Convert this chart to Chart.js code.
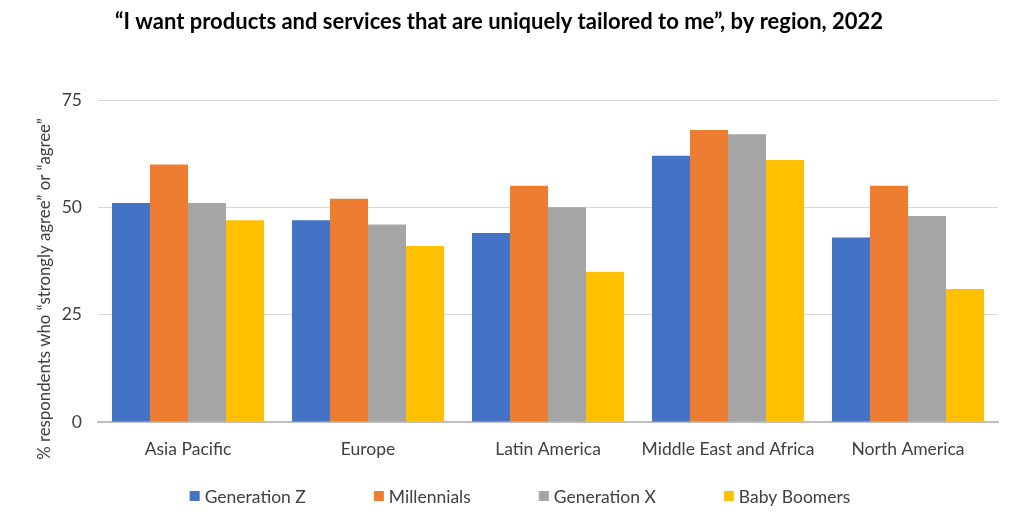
<!DOCTYPE html>
<html>
<head>
<meta charset="utf-8">
<script src="https://cdn.jsdelivr.net/npm/chart.js@4"></script>
<style>
html,body{margin:0;padding:0;background:#fff;}
#wrap{width:1024px;height:514px;position:relative;}
</style>
</head>
<body>
<div id="wrap"><canvas id="c" width="1024" height="514"></canvas></div>
<script>
const regions = ["Asia Pacific", "Europe", "Latin America", "Middle East and Africa", "North America"];
const seriesNames = ["Generation Z", "Millennials", "Generation X", "Baby Boomers"];
const genZ = [51, 47, 44, 62, 43];
const millennials = [60, 52, 55, 68, 55];
const genX = [51, 46, 50, 67, 48];
const babyBoomers = [47, 41, 35, 61, 31];
const yTicks = [0, 25, 50, 75];
const colors = ["#4472C4", "#ED7D31", "#A5A5A5", "#FFC000"];
const titleText = "\u201CI want products and services that are uniquely tailored to me\u201D, by region, 2022";
const yTitle = "% respondents who \u201Cstrongly agree\u201D or \u201Cagree\u201D";

const FONT = "Lato, 'Open Sans', sans-serif";
const TEXT = "#404040";

const extras = {
  id: "extras",
  afterDraw(chart) {
    const ctx = chart.ctx;
    // Y axis title
    ctx.save();
    ctx.font = "16.8px " + FONT;
    ctx.fillStyle = TEXT;
    ctx.translate(45, 289);
    ctx.rotate(-Math.PI / 2);
    ctx.textAlign = "center";
    ctx.textBaseline = "middle";
    ctx.fillText(yTitle, 0, 0);
    ctx.restore();
    // Legend
    ctx.save();
    ctx.font = "17.5px " + FONT;
    ctx.textBaseline = "middle";
    const box = 10, gapBox = 5, gapItem = 68;
    const items = chart.data.datasets.map(d => ({label: d.label, color: d.backgroundColor}));
    let total = 0;
    items.forEach((it, i) => { it.w = ctx.measureText(it.label).width; total += box + gapBox + it.w + (i ? gapItem : 0); });
    let x = 520 - total / 2;
    const y = 496;
    items.forEach((it, i) => {
      if (i) x += gapItem;
      ctx.fillStyle = it.color;
      ctx.fillRect(x, y - box / 2, box, box);
      x += box + gapBox;
      ctx.fillStyle = TEXT;
      ctx.fillText(it.label, x, y + 1);
      x += it.w;
    });
    ctx.restore();
  }
};

const data = {
  labels: regions,
  datasets: [genZ, millennials, genX, babyBoomers].map((vals, i) => ({
    label: seriesNames[i],
    data: vals,
    backgroundColor: colors[i],
    borderWidth: 0,
    categoryPercentage: 0.845,
    barPercentage: 1.0
  }))
};

new Chart(document.getElementById("c"), {
  type: "bar",
  data,
  plugins: [extras],
  options: {
    responsive: false,
    animation: false,
    devicePixelRatio: 1,
    layout: { padding: { left: 0, right: 26, top: 0, bottom: 0 } },
    plugins: {
      legend: { display: false },
      tooltip: { enabled: false },
      title: {
        display: true,
        text: titleText,
        color: "#000",
        font: { family: FONT, size: 22, weight: "bold", lineHeight: 1.2 },
        padding: { top: 9, bottom: 64.6 }
      }
    },
    scales: {
      x: {
        grid: { display: false, drawTicks: false },
        border: { display: true, color: "#BFBFBF", width: 2 },
        ticks: { color: TEXT, font: { family: FONT, size: 17.5 }, padding: 17, maxRotation: 0 },
        afterFit(s) { s.height = 92; }
      },
      y: {
        min: 0, max: 75,
        afterBuildTicks(s) { s.ticks = yTicks.map(v => ({ value: v })); },
        grid: { color: "#D9D9D9", lineWidth: 1, drawTicks: false },
        border: { display: false },
        ticks: { color: TEXT, font: { family: FONT, size: 17.5 }, padding: 16 },
        afterFit(s) { s.width = 98; }
      }
    }
  }
});
</script>
</body>
</html>
